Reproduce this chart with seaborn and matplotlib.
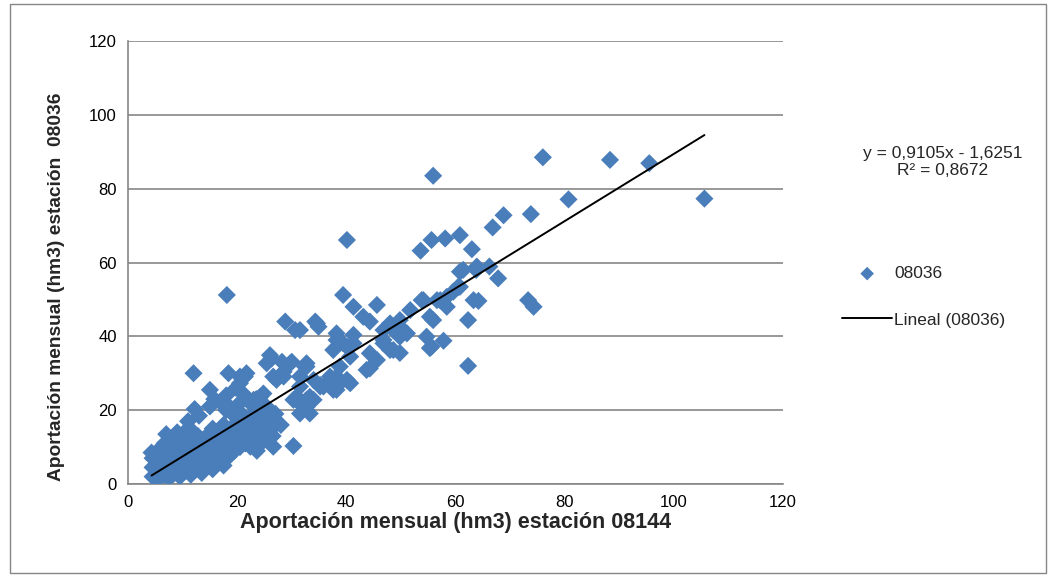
import numpy as np
import pandas as pd
import matplotlib
matplotlib.use("Agg")
import matplotlib.pyplot as plt
import seaborn as sns
from matplotlib.patches import Rectangle

# aportaciones mensuales (hm3): estacion 08144 (x) frente a 08036 (y)
x_08144 = [
    4.5, 4.5, 4.5, 4.3, 5.5, 5.5, 5.5, 5.8, 6.5, 6.5, 6.5, 6.7, 7.0,
    7.5, 7.5, 7.5, 7.8, 8.0, 8.5, 8.5, 8.5, 8.8, 9.0, 9.5, 9.5, 9.5, 9.8, 10.0,
    10.5, 10.5, 10.5, 10.8, 11.0, 11.0, 11.5, 11.5, 11.5, 11.8, 12.0, 12.2, 12.0,
    12.5, 12.5, 12.5, 12.8, 13.0, 13.5, 13.5, 13.5, 13.8,
    14.5, 14.5, 14.5, 14.8, 15.0, 15.0, 15.5, 15.5, 15.5, 15.5, 15.8,
    16.5, 16.5, 16.5, 16.8, 17.0, 17.5, 17.5, 17.5, 17.8, 17.5, 18.0, 18.0,
    18.5, 18.5, 18.5, 18.8, 18.5, 18.4, 19.5, 19.5, 19.5, 19.8, 19.9, 19.8,
    20.5, 20.5, 20.5, 20.8, 20.5, 20.5, 20.5, 21.5, 21.5, 21.5, 21.4, 21.4, 21.7,
    22.4, 22.5, 22.4, 22.5, 22.4, 23.0, 23.6, 23.6, 23.5, 23.5, 23.5,
    24.2, 24.8, 24.2, 24.5, 24.5, 24.8, 25.4, 25.5, 25.4, 25.5, 25.4,
    26.6, 26.5, 26.6, 26.6, 26.0, 26.3, 27.0, 27.2, 27.0, 28.0, 28.5, 28.5, 28.2, 29.7, 30.0,
    28.8, 30.6, 31.5, 34.3, 34.9, 34.6, 32.7, 32.7, 32.4, 31.5, 34.0, 35.2, 37.0, 31.5, 35.2, 35.8,
    30.9, 32.1, 33.3, 30.3, 32.7, 31.5, 33.3, 34.0, 32.7, 30.3,
    38.2, 38.8, 40.7, 37.6, 38.2, 40.1, 38.8, 40.7, 37.6, 38.2, 39.4, 41.3, 38.2, 40.1, 41.3,
    44.3, 44.3, 43.7, 45.6, 46.8, 48.6, 48.0, 46.8, 48.6, 49.8, 51.1, 46.8, 48.0, 49.8, 49.8,
    49.8, 39.4, 41.3, 45.6, 43.1, 44.3, 40.1, 18.1,
    51.7, 54.1, 56.6, 58.4, 59.6, 55.3, 55.9, 60.5, 57.2, 53.8, 58.4, 60.8, 61.4, 63.9,
    66.2, 67.8, 63.3, 64.2, 62.3, 62.3, 54.7, 55.6, 57.8, 55.3, 55.9, 60.8, 58.1, 55.6,
    53.6, 63.0, 66.8, 68.8, 73.8, 76.0, 80.7, 88.3, 95.5, 105.6, 73.3, 74.3, 60.8, 63.8,
]
y_08036 = [
    2.0, 4.5, 7.0, 8.5, 1.5, 3.5, 6.0, 9.5, 2.5, 5.0, 8.0, 11.0, 13.5,
    1.5, 4.0, 7.0, 10.0, 12.0, 3.0, 6.0, 9.0, 11.5, 14.0, 2.0, 5.0, 8.0, 10.5, 13.0,
    3.5, 6.5, 9.5, 12.0, 15.0, 17.0, 2.5, 5.5, 8.0, 11.0, 14.0, 20.3, 30.0,
    4.0, 7.0, 10.0, 13.0, 18.5, 3.0, 6.0, 9.0, 12.0,
    5.0, 8.0, 11.0, 13.5, 21.0, 25.5, 4.0, 7.0, 10.0, 15.0, 23.0,
    6.0, 9.0, 12.0, 14.5, 22.0, 5.0, 8.0, 11.0, 13.0, 16.0, 20.0, 24.0,
    7.5, 10.0, 12.5, 15.0, 21.0, 30.0, 9.0, 12.0, 15.0, 18.0, 20.0, 26.0,
    10.0, 13.0, 16.0, 19.0, 22.0, 27.3, 29.1, 11.0, 14.0, 17.0, 24.0, 29.1, 30.0,
    10.1, 12.5, 15.0, 18.2, 21.9, 22.8, 9.0, 14.6, 17.0, 20.0, 23.0,
    23.6, 16.4, 10.8, 12.0, 19.0, 24.5, 11.9, 14.0, 20.9, 17.0, 32.7,
    10.1, 13.0, 19.1, 29.1, 34.9, 34.0, 16.0, 28.2, 19.0, 16.0, 29.1, 30.4, 33.1, 32.7, 33.1,
    44.0, 41.7, 41.7, 44.0, 42.6, 43.5, 31.8, 32.7, 31.8, 29.1, 28.2, 26.8, 29.1, 26.4, 26.4, 26.4,
    23.6, 20.9, 19.1, 22.8, 22.8, 19.1, 23.6, 22.8, 20.9, 10.3,
    29.1, 27.3, 27.3, 25.5, 25.5, 28.2, 31.8, 34.5, 36.3, 40.8, 38.1, 38.1, 39.0, 37.2, 40.4,
    35.4, 31.3, 30.9, 33.6, 38.1, 36.3, 36.3, 39.0, 41.7, 39.9, 40.8, 41.7, 43.5, 42.6, 44.4,
    35.5, 51.2, 48.0, 48.5, 45.3, 44.0, 66.1, 51.2,
    47.1, 49.8, 49.8, 48.0, 52.1, 45.3, 44.4, 53.4, 49.8, 49.8, 50.7, 53.4, 58.0, 58.9,
    58.9, 55.7, 49.8, 49.6, 44.4, 32.0, 39.9, 37.2, 38.8, 36.8, 83.5, 67.4, 66.5, 66.1,
    63.2, 63.6, 69.5, 72.8, 73.1, 88.5, 77.1, 87.8, 86.9, 77.3, 49.8, 48.0, 57.5, 58.0,
]

# linea de tendencia de Excel (ecuacion mostrada en el grafico)
trend_slope = 0.9105
trend_intercept = -1.6251
r2 = 0.8672

df = pd.DataFrame({'x': x_08144, 'y': y_08036})
x_line = np.array([df['x'].min(), df['x'].max()])
df_line = pd.DataFrame({'x': x_line, 'y': trend_slope * x_line + trend_intercept})

sns.set_style('white')
plt.rcParams['font.family'] = ['Liberation Sans', 'DejaVu Sans']

fig = plt.figure(figsize=(10.53, 5.77), dpi=100)
ax = fig.add_axes([0.1216, 0.1612, 0.6220, 0.7677])

sns.scatterplot(data=df, x='x', y='y', ax=ax, marker='D', s=85,
                color='#4A7EBB', edgecolor='none', linewidth=0, label='08036', zorder=3)
sns.lineplot(data=df_line, x='x', y='y', ax=ax, color='black', linewidth=1.4,
             label='Lineal (08036)', zorder=4)

ax.set_xlim(0, 120)
ax.set_ylim(0, 120)
ax.set_xticks(np.arange(0, 121, 20))
ax.set_yticks(np.arange(0, 121, 20))
ax.yaxis.grid(True, color='#868686', linewidth=1.2)
ax.xaxis.grid(False)
ax.set_axisbelow(True)
for side in ['top', 'right']:
    ax.spines[side].set_visible(False)
for side in ['left', 'bottom']:
    ax.spines[side].set_color('#868686')
    ax.spines[side].set_linewidth(1.2)
ax.tick_params(axis='both', direction='out', length=5, width=1.2, color='#868686',
               labelsize=12, labelcolor='black', pad=3)
ax.set_xlabel('Aportación mensual (hm3) estación 08144', fontsize=15.5, fontweight='bold')
ax.set_ylabel('Aportación mensual (hm3) estación  08036', fontsize=13.8, fontweight='bold')
ax.xaxis.set_label_coords(0.5, -0.064)
ax.yaxis.set_label_coords(-0.097, 0.445)

handles, labels = ax.get_legend_handles_labels()
ax.get_legend().remove()
fig.legend(handles, labels, loc='upper left', bbox_to_anchor=(842 / 1053, 1 - 266 / 577),
           frameon=False, fontsize=12.5, handlelength=2.9, handletextpad=0.1,
           labelspacing=1.8, borderpad=0, borderaxespad=0, markerscale=0.75)

fig.text(943 / 1053, 1 - 162 / 577, 'y = 0,9105x - 1,6251\nR² = 0,8672',
         ha='center', va='center', multialignment='center', fontsize=12.5, linespacing=1.15)

# marco exterior del grafico
fig.patches.append(Rectangle((10 / 1053, 4 / 577), 1036 / 1053, 569 / 577,
                             transform=fig.transFigure, fill=False,
                             edgecolor='#868686', linewidth=1.0))

fig.savefig('out.png', dpi=100)
